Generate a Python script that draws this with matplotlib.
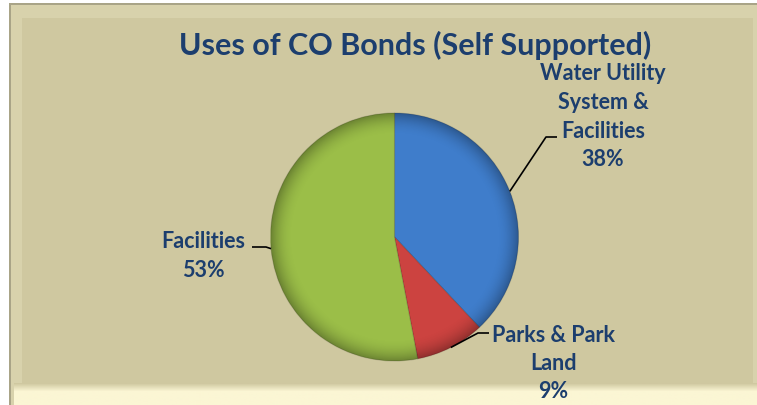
import numpy as np
import matplotlib
matplotlib.use("Agg")
import matplotlib.pyplot as plt
from matplotlib.patches import Rectangle, Circle

# ---- data ----
title = "Uses of CO Bonds (Self Supported)"
categories = ["Water Utility\nSystem &\nFacilities", "Parks & Park\nLand", "Facilities"]
values = [38, 9, 53]
colors = ["#3F7DCB", "#CC4340", "#9BBE48"]

W, H = 757, 405
fig = plt.figure(figsize=(W / 100, H / 100), dpi=100)
ax = fig.add_axes([0, 0, 1, 1])
ax.axis("off")
fig.patch.set_facecolor("white")

def Y(y):
    return H - y

TXT = "#1C3E6E"
FONT = "Lato"

# ---- frame / background ----
ax.add_patch(Rectangle((9, 0), W - 9, H - 3, facecolor="#A9A487", edgecolor="none", zorder=0))
ax.add_patch(Rectangle((11, 0), W - 11, H - 5, facecolor="#D8D2AC", edgecolor="none", zorder=0))
ax.add_patch(Rectangle((22, 20), W - 26, H - 38, facecolor="#CFC8A0", edgecolor="none", zorder=0.5))
# bottom highlight strip
strip = np.zeros((20, 2, 3))
top_c = np.array([0xCF, 0xC8, 0xA0]) / 255
bot_c = np.array([0xFB, 0xF6, 0xD4]) / 255
for k in range(20):
    t = min(1, k / 7)
    strip[k, :, :] = top_c * (1 - t) + bot_c * t
ax.imshow(strip, extent=(14, W, Y(405), Y(383)), origin="upper", aspect="auto", zorder=0.6)

# ---- pie ----
cx, cy, r = 394.5, Y(237), 124
wedges, _ = ax.pie(values, colors=colors, startangle=90, counterclock=False,
                   center=(cx, cy), radius=r, frame=True,
                   wedgeprops=dict(edgecolor=(0, 0, 0, 0.15), linewidth=0.8))
ax.set_xlim(0, W)
ax.set_ylim(0, H)
ax.set_aspect("equal")
ax.axis("off")
for w in wedges:
    w.set_zorder(2)

# rim shading overlay
n = 400
yy, xx = np.mgrid[-1:1:n * 1j, -1:1:n * 1j]
rr = np.sqrt(xx ** 2 + yy ** 2)
shade = np.zeros((n, n, 4))
alpha = np.clip((rr - 0.82) / 0.18, 0, 1) ** 2 * 0.3
shade[..., 3] = alpha
im = ax.imshow(shade, extent=(cx - r, cx + r, cy - r, cy + r), origin="upper", zorder=3)
clip = Circle((cx, cy), r, transform=ax.transData)
im.set_clip_path(clip)

# ---- labels with leader lines ----
# (label center x, first-line center y (image px), elbow x, elbow y, end x)
label_info = [
    (603, 72, 546, 137, 557),
    (553, 333, 478, 333, 489),
    (203, 240, 266, 247, 252),
]
LINE_STEP = 28.5
for w, cat, v, (tx, ty, ex, ey, endx) in zip(wedges, categories, values, label_info):
    ang = np.deg2rad((w.theta1 + w.theta2) / 2)
    px, py = cx + r * np.cos(ang), cy + r * np.sin(ang)
    ax.plot([px, ex, endx], [py, Y(ey), Y(ey)], color="black", lw=1.2, zorder=5,
            solid_capstyle="butt")
    lines = cat.split("\n") + [f"{v}%"]
    for i, line in enumerate(lines):
        ax.text(tx, Y(ty + i * LINE_STEP), line, ha="center", va="center_baseline", color=TXT,
                fontsize=15.5, fontweight="bold", family=FONT, zorder=6)

ax.text(415, Y(45), title, ha="center", va="center", color=TXT, fontsize=22,
        fontweight="bold", family=FONT, zorder=6)

ax.set_xlim(0, W)
ax.set_ylim(0, H)
fig.savefig("out.png", dpi=100)
